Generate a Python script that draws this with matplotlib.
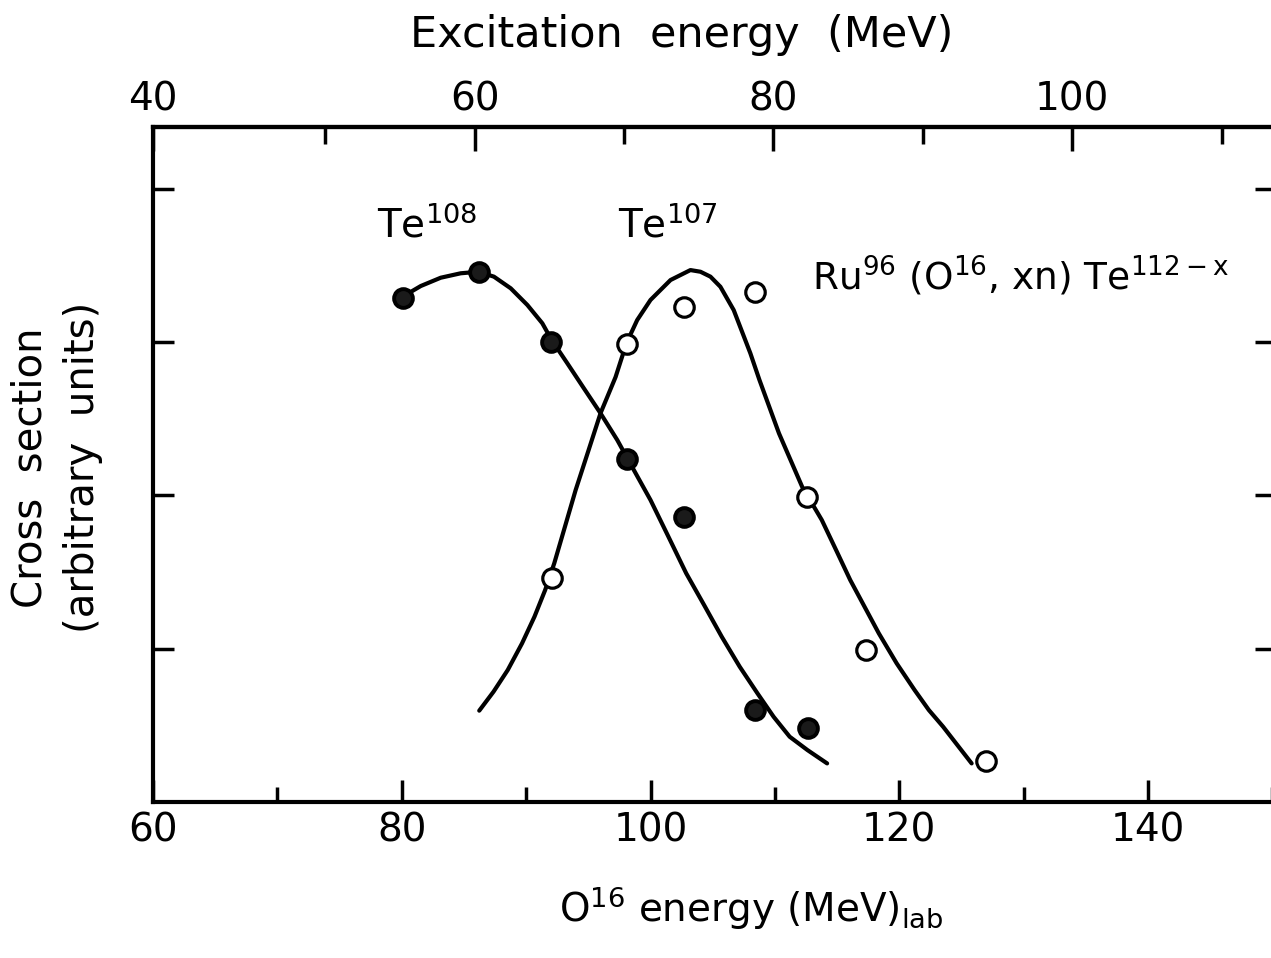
import numpy as np
import matplotlib
matplotlib.use('Agg')
import matplotlib.pyplot as plt

# measured points (O16 lab energy in MeV, cross section in arbitrary units)
te108_e = [80.1, 86.2, 92.0, 98.1, 102.7, 108.4, 112.7]
te108_s = [3.29, 3.46, 3.00, 2.24, 1.86, 0.60, 0.48]

te107_e = [92.1, 98.1, 102.7, 108.4, 112.6, 117.3, 127.0]
te107_s = [1.46, 2.99, 3.23, 3.33, 1.99, 0.99, 0.27]

# hand drawn curves
fit108_e = [80.06, 81.53, 83.13, 84.74, 86.16, 87.41, 88.76, 90.10, 91.30,
            92.05, 93.31, 94.64, 95.98, 97.33, 98.07, 100.00, 101.44, 102.87,
            104.31, 105.73, 107.17, 108.60, 109.90, 111.19, 112.62, 114.20]
fit108_s = [3.296, 3.366, 3.420, 3.449, 3.459, 3.427, 3.351, 3.242, 3.123,
            3.014, 2.862, 2.699, 2.536, 2.361, 2.252, 1.970, 1.731, 1.492,
            1.285, 1.078, 0.883, 0.709, 0.556, 0.426, 0.339, 0.252]

fit107_e = [86.23, 87.38, 88.52, 89.67, 90.67, 91.53, 92.26, 93.12, 93.98,
            94.98, 95.98, 97.19, 98.07, 98.93, 100.00, 101.61, 103.21, 104.02,
            104.82, 105.62, 106.69, 108.03, 108.76, 110.33, 112.19, 113.77,
            114.92, 116.06, 117.21, 118.36, 119.79, 121.23, 122.38, 123.53,
            124.67, 125.82]
fit107_s = [0.596, 0.720, 0.861, 1.035, 1.209, 1.383, 1.557, 1.796, 2.035,
            2.285, 2.536, 2.772, 2.994, 3.144, 3.275, 3.405, 3.470, 3.459,
            3.427, 3.361, 3.209, 2.927, 2.753, 2.405, 2.057, 1.840,
            1.644, 1.448, 1.274, 1.100, 0.905, 0.731, 0.600, 0.491,
            0.372, 0.252]

lab_ticks = [60, 80, 100, 120, 140]
lab_minor = [70, 90, 110, 130, 150]
exc_labels = ['40', '60', '80', '100']
exc_minor = [50, 70, 90, 110]
y_ticks = [1, 2, 3, 4]


def lab2exc(e):
    return 60 + (np.asarray(e) - 85.86) * 0.8326


def exc2lab(x):
    return 85.86 + (np.asarray(x) - 60) / 0.8326


plt.rcParams['font.family'] = 'DejaVu Sans'
plt.rcParams['mathtext.fontset'] = 'dejavusans'

fig = plt.figure(figsize=(12.71, 9.58), dpi=100)
ax = fig.add_axes([0.1204, 0.1628, 0.8836, 0.7046])

for ex, sx in [(fit108_e, fit108_s), (fit107_e, fit107_s)]:
    ax.plot(ex, sx, color='k', lw=3.0, zorder=2,
            solid_joinstyle='round', solid_capstyle='round')
ax.plot(te108_e, te108_s, 'o', ms=13.5, mfc='0.1', mec='k', mew=2.8, zorder=3)
ax.plot(te107_e, te107_s, 'o', ms=14, mfc='white', mec='k', mew=2.3, zorder=3)

ax.set_xlim(60, 150.3)
ax.set_ylim(0, 4.403)
ax.set_xticks(lab_ticks)
ax.set_xticks(lab_minor, minor=True)
ax.set_yticks(y_ticks)
ax.set_yticklabels([])
ax.tick_params(which='both', direction='in', width=2.5, labelsize=28, pad=7)
ax.tick_params(which='major', length=16)
ax.tick_params(which='minor', length=11)
ax.tick_params(axis='y', left=True, right=True, length=15)
ax.tick_params(axis='x', top=False)
for s in ax.spines.values():
    s.set_linewidth(3)

# top axis: the "40" label sits on the left corner of the frame
sec = ax.secondary_xaxis('top', functions=(lab2exc, exc2lab))
sec.set_xticks([float(lab2exc(60)), 60, 80, 100], exc_labels)
sec.set_xticks(exc_minor, minor=True)
sec.tick_params(which='both', direction='in', width=2.5, labelsize=28, pad=6)
sec.tick_params(which='major', length=17)
sec.tick_params(which='minor', length=12)
sec.spines['top'].set_linewidth(3)

fig.text(0.536, 0.963, 'Excitation  energy  (MeV)', fontsize=31,
         ha='center', va='center')

ax.text(78.0, 3.68, r'Te$^{\mathregular{108}}$', fontsize=28, va='baseline')
ax.text(97.4, 3.68, r'Te$^{\mathregular{107}}$', fontsize=28, va='baseline')
ax.text(113.0, 3.34, r'Ru$^{\mathregular{96}}$ (O$^{\mathregular{16}}$, xn) Te$^{\mathregular{112-x}}$',
        fontsize=27, va='baseline')

fig.text(0.591, 0.052, r'O$^{\mathregular{16}}$ energy (MeV)$_{\mathregular{lab}}$',
         fontsize=28, ha='center', va='center')
fig.text(0.045, 0.512, 'Cross  section\n(arbitrary  units)', fontsize=29,
         rotation=90, ha='center', va='center', linespacing=1.4)

fig.savefig('out.png', dpi=100)
